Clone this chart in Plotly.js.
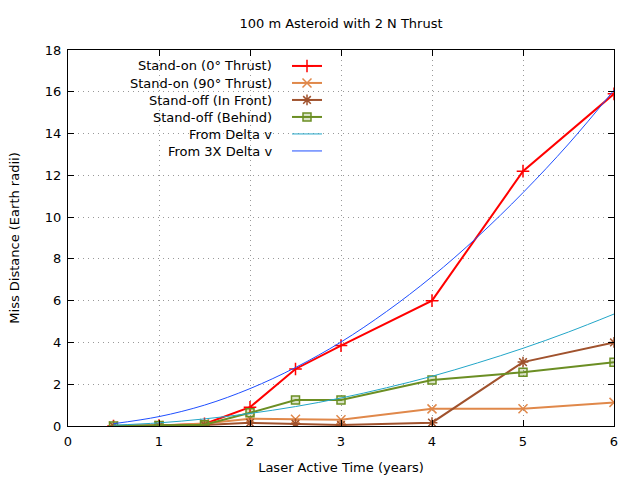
<!DOCTYPE html>
<html>
<head>
<meta charset="utf-8">
<script src="https://cdn.plot.ly/plotly-3.0.1.min.js"></script>
<style>html,body{margin:0;padding:0;background:#fff;}#chart{width:640px;height:480px;}</style>
</head>
<body>
<div id="chart"></div>
<script>
// Data
const laserTime = [0.5, 1, 1.5, 2, 2.5, 3, 4, 5, 6];
const standOn0 = [0, 0.02, 0.1, 0.9, 2.73, 3.85, 6.0, 12.2, 15.9];
const standOn90 = [0, 0.02, 0.12, 0.35, 0.32, 0.3, 0.82, 0.83, 1.13];
const standOffFront = [0, 0.01, 0.05, 0.15, 0.1, 0.05, 0.16, 3.06, 4.0];
const standOffBehind = [0, 0.02, 0.06, 0.63, 1.24, 1.24, 2.2, 2.57, 3.05];
const curveTime = [0.5, 1, 1.5, 2, 2.5, 3, 3.5, 4, 4.5, 5, 5.5, 6];
const fromDeltaV = [0.04, 0.15, 0.34, 0.6, 0.93, 1.34, 1.83, 2.38, 3.02, 3.72, 4.5, 5.36];
const from3xDeltaV = [0.11, 0.45, 1.0, 1.79, 2.8, 4.02, 5.48, 7.15, 9.05, 11.17, 13.5, 16.08];
const seriesNames = ["Stand-on (0° Thrust)", "Stand-on (90° Thrust)", "Stand-off (In Front)", "Stand-off (Behind)", "From Delta v", "From 3X Delta v"];
const xTicks = [0, 1, 2, 3, 4, 5, 6];
const yTicks = [0, 2, 4, 6, 8, 10, 12, 14, 16, 18];

const FONT = "DejaVu Sans, Liberation Sans, Arial, sans-serif";
const FS = 13;
const colors = ["#ff0000", "#e0884a", "#a0522d", "#6b8e23", "#22a6c8", "#1f4fff"];

function mk(x, y, i, sym, lw, msize, fill) {
  const t = {
    x: x, y: y, type: "scatter", name: "",
    mode: sym ? "lines+markers" : "lines",
    line: {color: colors[i], width: lw, shape: sym ? "linear" : "spline"},
    legend: i === 0 ? "legend" : "legend" + (i + 1),
    hoverinfo: "x+y"
  };
  if (sym) t.marker = {symbol: sym, size: msize, color: fill || colors[i], line: {color: colors[i], width: 1.5}};
  return t;
}

const traces = [
  mk(laserTime, standOn0, 0, "cross-thin-open", 2, 9),
  mk(laserTime, standOn90, 1, "x-thin-open", 2, 9),
  mk(laserTime, standOffFront, 2, "asterisk-open", 2, 9),
  mk(laserTime, standOffBehind, 3, "square", 2, 8, "rgba(107,142,35,0.25)"),
  mk(curveTime, fromDeltaV, 4, null, 1),
  mk(curveTime, from3xDeltaV, 5, null, 1)
];

// plot area in pixels: x 68..614, y 50..426
const rowsPx = [66, 83, 100, 117, 134, 151];
const toPy = p => (426 - p) / 376;
const legX = (287 - 68) / 546;
const textX = (274 - 68) / 546;

const axisCommon = {
  ticks: "inside", ticklen: 6, tickcolor: "#000", mirror: "allticks",
  showline: true, linecolor: "#000", linewidth: 1,
  showgrid: true, gridcolor: "#999", griddash: "1px,4px", gridwidth: 1,
  zeroline: false, tickfont: {family: FONT, size: FS, color: "#000"}
};

const layout = {
  width: 640, height: 480,
  margin: {l: 68, r: 26, t: 50, b: 54},
  paper_bgcolor: "#fff", plot_bgcolor: "#fff",
  font: {family: FONT, size: FS, color: "#000"},
  title: {text: "100 m Asteroid with 2 N Thrust", font: {family: FONT, size: FS, color: "#000"},
          x: 0.5, xref: "paper", y: 1 - 23 / 480, yanchor: "middle"},
  xaxis: Object.assign({}, axisCommon, {
    range: [0, 6], tickvals: xTicks, ticktext: xTicks.map(String), ticklabelstandoff: 3,
    title: {text: "Laser Active Time (years)", font: {family: FONT, size: FS}, standoff: 15}
  }),
  yaxis: Object.assign({}, axisCommon, {
    range: [0, 18], tickvals: yTicks, ticktext: yTicks.map(String), ticklabelstandoff: 3,
    title: {text: "Miss Distance (Earth radii)", font: {family: FONT, size: FS}, standoff: 22}
  }),
  annotations: seriesNames.map((n, i) => ({
    text: n, xref: "paper", yref: "paper", x: textX, y: toPy(rowsPx[i]),
    xanchor: "right", yanchor: "middle", showarrow: false,
    font: {family: FONT, size: FS, color: "#000"}
  })),
  showlegend: true
};
seriesNames.forEach((n, i) => {
  const key = i === 0 ? "legend" : "legend" + (i + 1);
  layout[key] = {x: legX, y: toPy(rowsPx[i]), xanchor: "left", yanchor: "middle",
    bgcolor: "rgba(0,0,0,0)", borderwidth: 0, font: {size: FS}, itemwidth: 30};
});

Plotly.newPlot("chart", traces, layout, {displayModeBar: false, staticPlot: true});
</script>
</body>
</html>
